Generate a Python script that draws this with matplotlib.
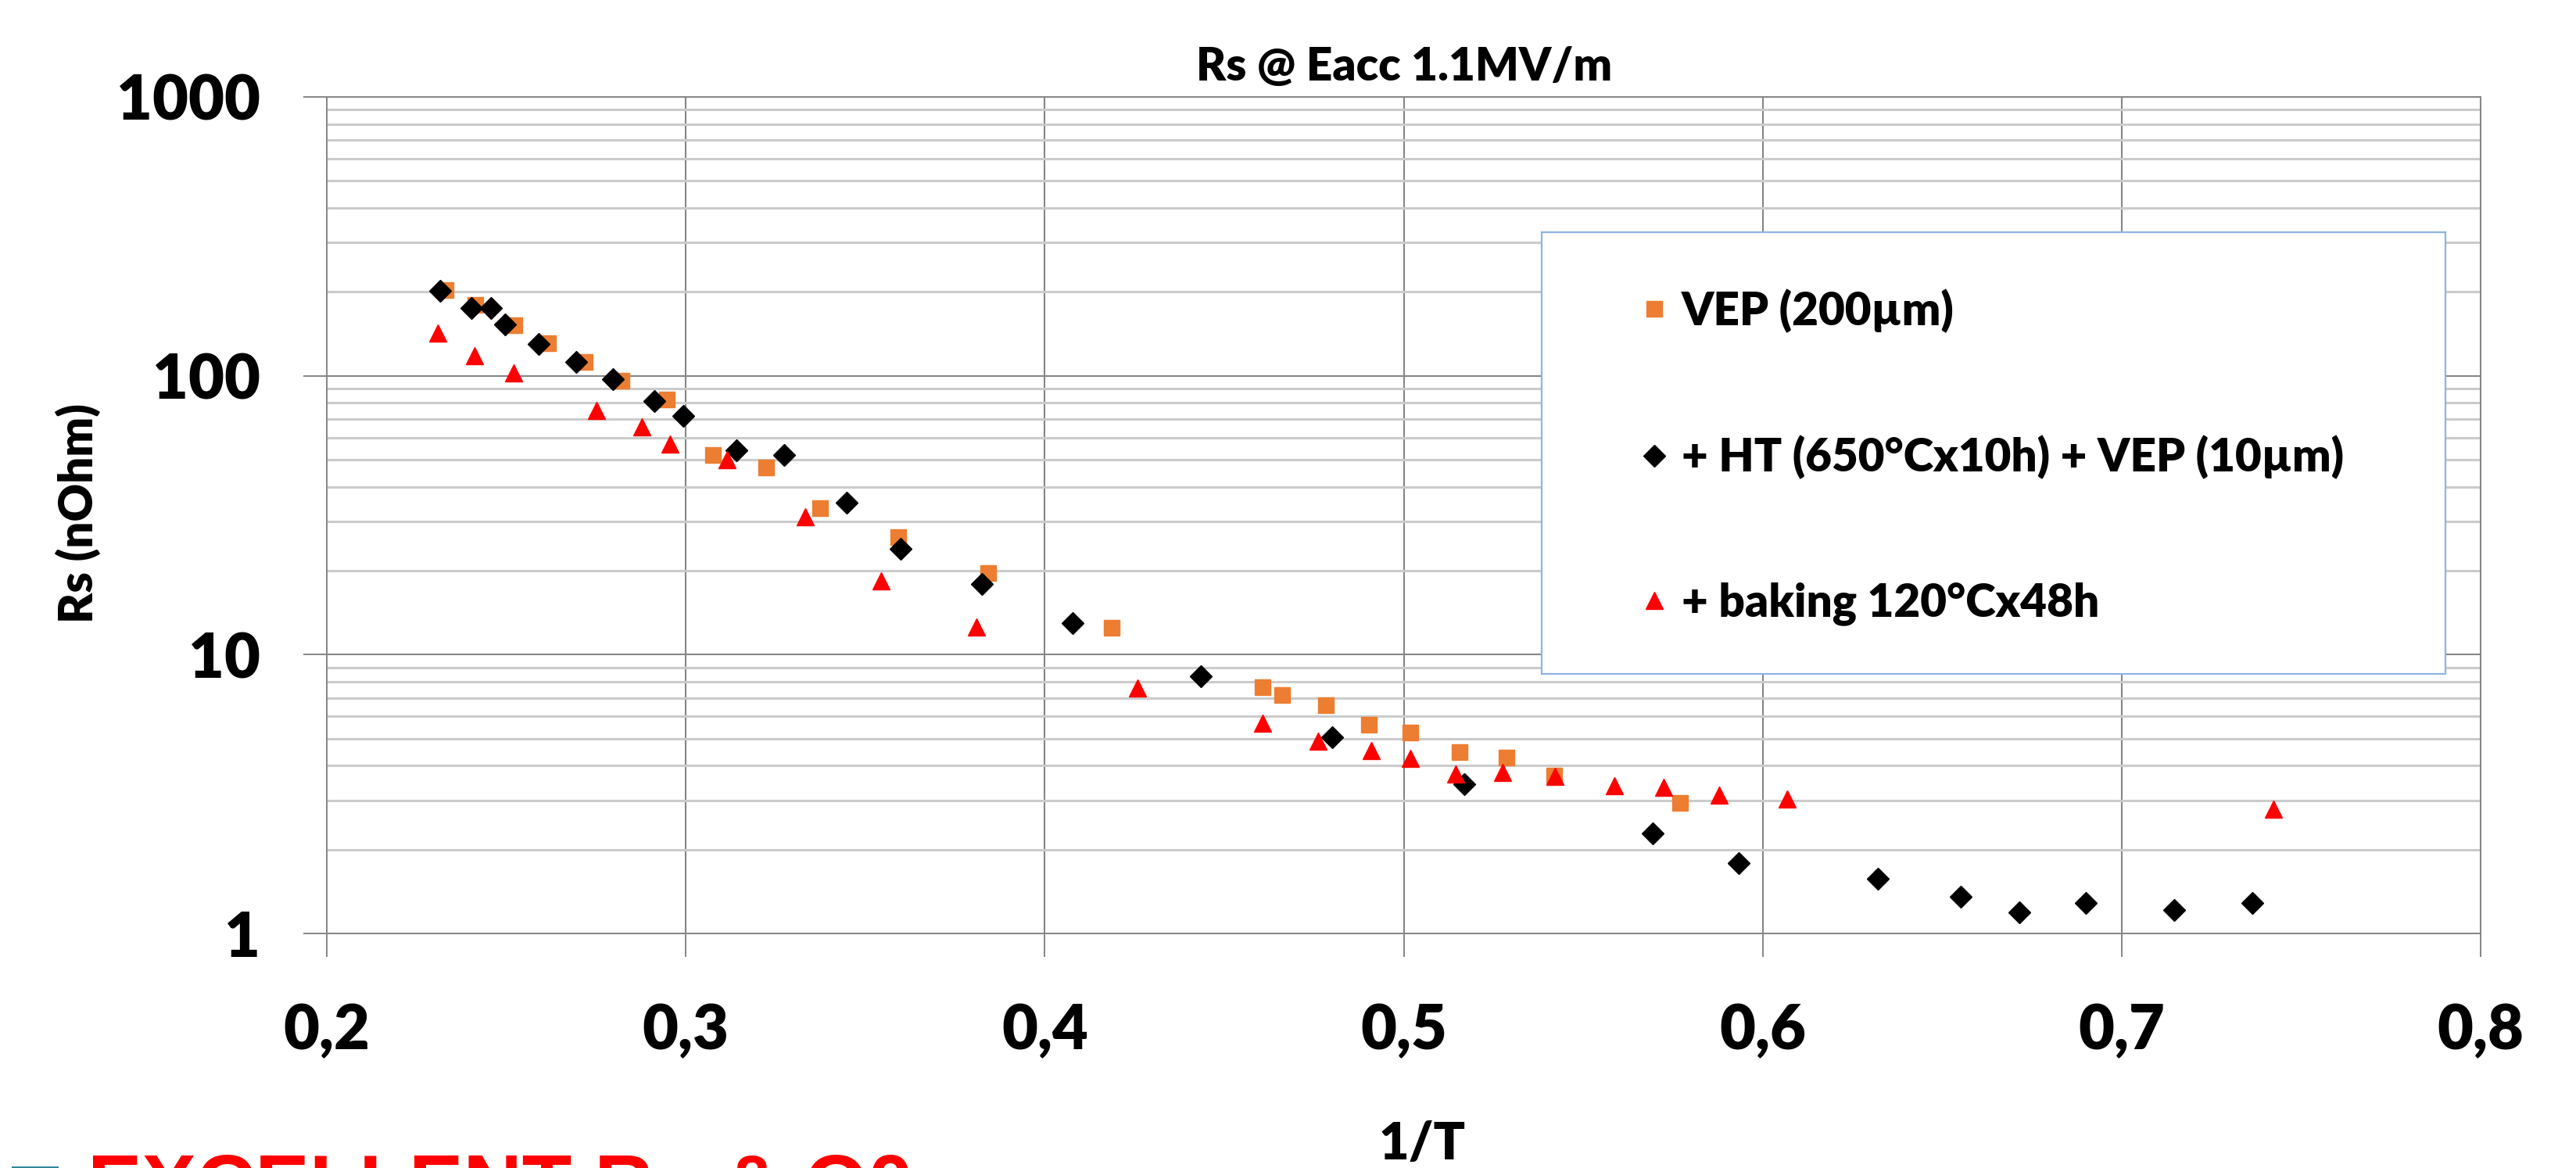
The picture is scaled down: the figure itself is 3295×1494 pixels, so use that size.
import numpy as np
import matplotlib
matplotlib.use("Agg")
import matplotlib.pyplot as plt
from matplotlib.ticker import FixedLocator, FuncFormatter, NullFormatter
from matplotlib.patches import Rectangle

plt.rcParams["font.family"] = ["Lato", "DejaVu Sans"]
plt.rcParams["font.weight"] = "heavy"

# VEP (200um) -- orange squares
vep_x = [0.2331, 0.2414, 0.2523, 0.2617, 0.2719, 0.2822, 0.2948, 0.3075, 0.3223,
         0.3375, 0.3593, 0.3842, 0.4186, 0.4607, 0.4661, 0.4783, 0.4903, 0.5019,
         0.5156, 0.5287, 0.5420, 0.5769]
vep_rs = [203, 179, 152, 131, 112, 96, 82, 52, 47, 33.5, 26.4, 19.6, 12.5, 7.65,
          7.17, 6.59, 5.61, 5.26, 4.47, 4.28, 3.69, 2.94]

# + HT (650C x 10h) + VEP (10um) -- black diamonds
ht_x = [0.2316, 0.2403, 0.2458, 0.2497, 0.2591, 0.2695, 0.2798, 0.2913, 0.2994,
        0.3142, 0.3273, 0.3449, 0.3598, 0.3826, 0.4077, 0.4435, 0.4801, 0.5169,
        0.5694, 0.5934, 0.6320, 0.6551, 0.6715, 0.6900, 0.7146, 0.7364]
ht_rs = [202, 175, 175, 153, 130, 112, 97, 81, 72, 54, 52, 35, 24, 17.9, 13.0,
         8.37, 5.06, 3.43, 2.29, 1.79, 1.57, 1.355, 1.19, 1.29, 1.21, 1.29]

# + baking 120C x 48h -- red triangles
bake_x = [0.2310, 0.2412, 0.2521, 0.2752, 0.2878, 0.2955, 0.3114, 0.3332, 0.3545,
          0.3809, 0.4258, 0.4607, 0.4762, 0.4910, 0.5019, 0.5145, 0.5276, 0.5422,
          0.5588, 0.5725, 0.5878, 0.6069, 0.7423]
bake_rs = [142, 118, 102.5, 75, 65.6, 57, 50, 31.2, 18.4, 12.6, 7.60, 5.68, 4.90,
           4.53, 4.25, 3.73, 3.78, 3.66, 3.39, 3.35, 3.14, 3.04, 2.79]

labels = ["VEP (200µm)", "+ HT (650°Cx10h) + VEP (10µm)", "+ baking 120°Cx48h"]
x_ticks = [0.2, 0.3, 0.4, 0.5, 0.6, 0.7, 0.8]
y_ticks = [1, 10, 100, 1000]

W, H = 3295, 1494
fig = plt.figure(figsize=(W / 100, H / 100), dpi=100)
ax = fig.add_axes([418 / W, 1 - 1194 / H, (3173 - 418) / W, (1194 - 124) / H])

GRID = "#868686"
ax.set_yscale("log")
ax.set_xlim(0.2, 0.8)
ax.set_ylim(1, 1000)
ax.set_axisbelow(True)

ax.xaxis.set_major_locator(FixedLocator(x_ticks))
ax.xaxis.set_major_formatter(FuncFormatter(lambda v, p: ("%.1f" % v).replace(".", ",")))
ax.yaxis.set_major_locator(FixedLocator(y_ticks))
ax.yaxis.set_major_formatter(FuncFormatter(lambda v, p: "%d" % v))
minor = [m * 10 ** k for k in range(3) for m in range(2, 10)]
ax.yaxis.set_minor_locator(FixedLocator(minor))
ax.yaxis.set_minor_formatter(NullFormatter())

ax.grid(which="major", axis="both", color=GRID, lw=1.5)
ax.grid(which="minor", axis="y", color="#CBCBCB", lw=2.2)
ax.tick_params(which="major", axis="both", length=21.5, width=1.4, color=GRID,
               labelsize=57)
ax.tick_params(which="major", axis="y", pad=40)
ax.tick_params(which="major", axis="x", pad=42)
ax.tick_params(which="minor", length=0)
for s in ax.spines.values():
    s.set_color(GRID)
    s.set_linewidth(1.4)

# series, drawn in Excel order
ax.plot(vep_x, vep_rs, "s", ms=14.5, color="#ED7D31", mec="#ED7D31", mew=1,
        label=labels[0], zorder=4)
ax.plot(ht_x, ht_rs, "D", ms=14.5, color="black", mec="black", mew=1,
        label=labels[1], zorder=5)
ax.plot(bake_x, bake_rs, "^", ms=16, color="#FF0000", mec="#FF0000", mew=1,
        label=labels[2], zorder=6)

# legend box (white, light blue border) plus frameless legend on top
ax.add_patch(Rectangle((0.5641, 0.3103), 0.4195, 0.528, transform=ax.transAxes,
                       facecolor="white", edgecolor="#8EB4E3", lw=1.6, zorder=7))
leg = ax.legend(loc="upper left", bbox_to_anchor=(0.6099, 0.771), frameon=False,
                borderpad=0, borderaxespad=0, handlelength=0.6, handletextpad=0.3,
                labelspacing=2.25, fontsize=42, numpoints=1)
leg.set_zorder(8)

fig.text(1796 / W, 1 - 103 / H, "Rs @ Eacc 1.1MV/m", ha="center", va="baseline",
         fontsize=42)
fig.text(100 / W, 1 - 657 / H, "Rs (nOhm)", rotation=90, ha="center", va="center",
         fontsize=43)
fig.text(1819 / W, 1 - 1483 / H, "1/T", ha="center", va="baseline", fontsize=48)

# slide text cut off by the bottom edge, as in the original slide
fig.text(112 / W, 1 - 1550 / H, "EXCELLENT R", ha="left", va="baseline",
         fontsize=75, fontweight="bold", color="#FF0000", family="Liberation Sans")
fig.text(842 / W, 1 - 1580 / H, "s", ha="left", va="baseline",
         fontsize=52, fontweight="bold", color="#FF0000", family="Liberation Sans")
fig.text(925 / W, 1 - 1550 / H, "& Q0", ha="left", va="baseline",
         fontsize=75, fontweight="bold", color="#FF0000", family="Liberation Sans")
fig.patches.append(Rectangle((15 / W, 0), 60 / W, 2 / H, transform=fig.transFigure,
                             facecolor="#31869B", edgecolor="none"))

fig.savefig("out.png", dpi=100)
